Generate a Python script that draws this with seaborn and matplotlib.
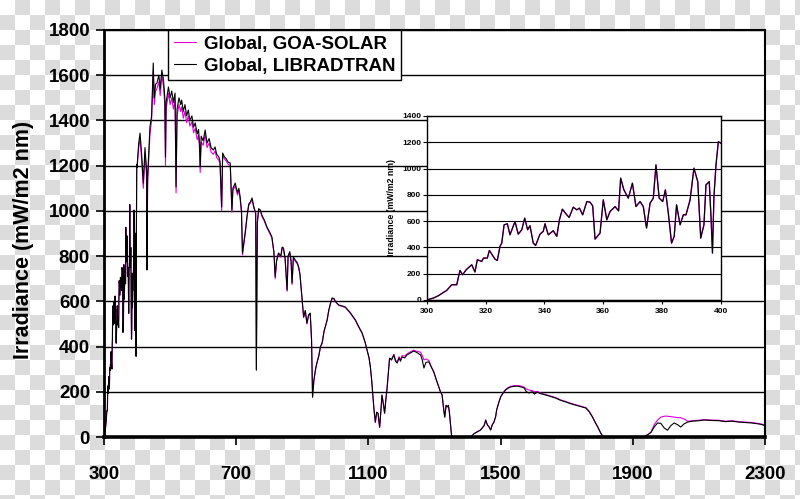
import numpy as np
import pandas as pd
import matplotlib
matplotlib.use('Agg')
import matplotlib.pyplot as plt
import seaborn as sns

# ---------------- data ----------------
# UV part (300-400 nm), both models overlap here (also shown in the inset)
wl_uv = [300, 302.3, 304, 305.7, 306.8, 308, 308.5, 310.2, 311.3, 312.2,
         313.4, 315.3, 316.4, 317.2, 318.7, 319.3, 320.6, 321.3, 323.2, 324,
         324.9, 325.5, 326.3, 327.4, 328.3, 330, 331.1, 332.3, 333.3, 334.3,
         335.1, 336.2, 337, 338.5, 339.6, 340.2, 341.3, 343, 344.2, 345.1,
         346.1, 347.6, 348.4, 349.8, 351, 351.9, 353, 354.4, 355.5, 356.4,
         357.2, 358.9, 360, 361.2, 362.3, 364, 365.2, 365.9, 367, 368.5,
         369.9, 371.1, 372.5, 373.6, 374.7, 375.9, 377, 377.9, 379, 380.2,
         381.1, 382.1, 383.2, 384.1, 384.9, 386.1, 387.2, 388.1, 389.5, 390.8,
         392.1, 393.1, 394.2, 394.9, 396, 396.6, 397.1, 397.6, 398.3, 399.1,
         400]
irr_uv = [0, 15, 33, 58, 73, 104, 116, 116, 225, 192,
          230, 268, 213, 306, 294, 319, 319, 377, 311, 301,
          408, 433, 572, 580, 496, 597, 501, 534, 623, 534,
          565, 433, 415, 501, 522, 580, 496, 527, 484, 610,
          691, 648, 628, 706, 686, 699, 648, 749, 744, 716,
          463, 509, 762, 610, 673, 711, 678, 927, 838, 775,
          889, 711, 749, 711, 547, 737, 775, 1028, 775, 749,
          838, 661, 433, 484, 724, 572, 648, 648, 762, 1003,
          901, 471, 572, 876, 901, 635, 357, 787, 1028, 1205,
          1192]

wl_main = [405, 409, 414, 419, 424, 429, 430, 432, 439, 444,
           449, 452, 456, 460, 466, 470, 475, 480, 484, 486,
           488, 495, 500, 505, 510, 515, 518, 521, 527, 532,
           535, 540, 545, 550, 555, 560, 566, 571, 576, 582,
           586, 589, 591, 594, 600, 606, 612, 618, 624, 631,
           636, 641, 647, 651, 656, 659, 664, 670, 676, 682,
           687, 690, 697, 704, 708, 712, 716, 719, 723, 727,
           733, 738, 743, 748, 753, 759, 761, 764, 768, 773,
           778, 785, 793, 800, 808, 814, 818, 822, 828, 835,
           839, 843, 848, 854, 857, 862, 866, 869, 873, 880,
           885, 889, 893, 897, 901, 904, 909, 914, 919, 924,
           928, 931, 935, 940, 944, 950, 955, 960, 966, 970,
           975, 980, 985, 990, 996, 1000, 1010, 1020, 1030, 1045,
           1061, 1070, 1081, 1090, 1096, 1102, 1106, 1110, 1113, 1117,
           1121, 1125, 1129, 1134, 1138, 1141, 1145, 1149, 1153, 1156,
           1160, 1164, 1170, 1177, 1182, 1187, 1193, 1197, 1202, 1210,
           1217, 1225, 1237, 1245, 1258, 1263, 1268, 1274, 1283, 1290,
           1298, 1305, 1313, 1318, 1323, 1328, 1331, 1335, 1338, 1342,
           1345, 1350, 1352, 1400, 1409, 1420, 1439, 1450, 1455, 1460,
           1465, 1470, 1475, 1480, 1485, 1488, 1494, 1500, 1508, 1515,
           1522, 1530, 1540, 1550, 1560, 1571, 1578, 1586, 1595, 1603,
           1611, 1620, 1636, 1650, 1667, 1680, 1697, 1710, 1727, 1740,
           1758, 1768, 1778, 1786, 1794, 1802, 1810, 1930, 1945, 1955,
           1965, 1975, 1985, 1995, 2005, 2015, 2025, 2035, 2045, 2055,
           2066, 2080, 2100, 2115, 2140, 2160, 2180, 2200, 2220, 2240,
           2260, 2280, 2290, 2300]

lib_main = [1300, 1344, 1250, 1123, 1280, 1180, 739, 1150, 1371, 1420,
            1654, 1500, 1560, 1565, 1600, 1540, 1623, 1580, 1500, 1238,
            1480, 1548, 1500, 1530, 1480, 1521, 1106, 1450, 1500, 1470,
            1490, 1440, 1470, 1420, 1446, 1400, 1420, 1370, 1389, 1340,
            1360, 1300, 1194, 1330, 1310, 1358, 1300, 1320, 1280, 1269,
            1283, 1250, 1240, 1220, 1017, 1256, 1240, 1230, 1215, 1212,
            1004, 1100, 1123, 1080, 1100, 1062, 1000, 814, 860, 902,
            980, 1030, 1040, 1057, 1020, 991, 296, 950, 1010, 1004,
            980, 960, 929, 910, 885, 820, 708, 780, 814, 800,
            840, 836, 790, 650, 800, 820, 780, 681, 796, 780,
            770, 752, 720, 650, 580, 531, 560, 504, 540, 548,
            430, 177, 250, 300, 327, 360, 400, 416, 470, 490,
            517, 560, 590, 615, 612, 600, 584, 580, 575, 550,
            517, 490, 460, 420, 385, 350, 310, 250, 195, 120,
            66, 110, 106, 44, 120, 186, 150, 106, 170, 208,
            280, 349, 340, 363, 335, 327, 350, 335, 354, 350,
            363, 370, 380, 375, 363, 340, 305, 330, 332, 310,
            287, 255, 221, 200, 186, 120, 88, 140, 133, 140,
            110, 30, 0, 0, 0, 15, 31, 50, 75, 53,
            45, 31, 55, 66, 90, 119, 150, 177, 195, 208,
            215, 221, 224, 225, 222, 217, 200, 195, 200, 190,
            199, 192, 186, 180, 172, 163, 155, 148, 141, 136,
            128, 112, 88, 65, 44, 20, 0, 0, 10, 20,
            45, 62, 60, 40, 30, 50, 62, 55, 44, 58,
            66, 70, 72, 75, 73, 72, 68, 70, 66, 64,
            62, 58, 55, 50]

goa_main = [1280, 1320, 1220, 1100, 1250, 1150, 739, 1120, 1340, 1400,
            1620, 1470, 1530, 1540, 1570, 1510, 1600, 1550, 1470, 1200,
            1450, 1520, 1470, 1500, 1450, 1490, 1080, 1420, 1470, 1440,
            1460, 1410, 1440, 1390, 1420, 1375, 1395, 1345, 1365, 1315,
            1335, 1275, 1170, 1305, 1290, 1335, 1280, 1300, 1260, 1250,
            1265, 1235, 1225, 1210, 1000, 1245, 1230, 1220, 1205, 1200,
            995, 1090, 1110, 1070, 1090, 1050, 990, 805, 850, 895,
            975, 1025, 1035, 1050, 1015, 985, 296, 945, 1005, 1000,
            975, 955, 925, 905, 880, 815, 700, 775, 810, 795,
            835, 830, 785, 645, 795, 815, 775, 675, 790, 775,
            765, 748, 715, 645, 575, 528, 556, 500, 536, 545,
            428, 175, 248, 298, 325, 358, 398, 414, 468, 488,
            515, 558, 588, 612, 610, 598, 582, 578, 573, 548,
            515, 488, 458, 418, 383, 348, 308, 248, 193, 118,
            64, 108, 104, 42, 118, 184, 148, 104, 168, 206,
            278, 347, 345, 366, 340, 332, 355, 342, 360, 358,
            368, 375, 384, 380, 375, 360, 341, 345, 338, 312,
            288, 256, 222, 200, 186, 120, 88, 140, 133, 140,
            110, 30, 0, 0, 0, 15, 31, 50, 75, 53,
            45, 31, 55, 66, 90, 119, 150, 177, 197, 210,
            218, 224, 227, 228, 226, 221, 212, 208, 205, 200,
            202, 195, 188, 182, 174, 165, 157, 150, 143, 138,
            130, 114, 90, 66, 45, 20, 0, 0, 10, 22,
            55, 75, 88, 92, 92, 90, 88, 86, 85, 80,
            70, 72, 74, 77, 75, 74, 70, 72, 68, 66,
            64, 60, 57, 52]

series_labels = ['Global, GOA-SOLAR', 'Global, LIBRADTRAN']
main_xticks = [300, 700, 1100, 1500, 1900, 2300]
main_yticks = [0, 200, 400, 600, 800, 1000, 1200, 1400, 1600, 1800]
inset_xticks = [300, 320, 340, 360, 380, 400]
inset_yticks = [0, 200, 400, 600, 800, 1000, 1200, 1400]
ylabel_text = 'Irradiance (mW/m2 nm)'

assert len(wl_uv) == len(irr_uv)
assert len(wl_main) == len(lib_main) == len(goa_main)

df = pd.DataFrame({
    'wl': wl_uv + wl_main,
    'goa': irr_uv + goa_main,
    'lib': irr_uv + lib_main,
})

# ---------------- style ----------------
sns.set_theme(style='white')
plt.rcParams['font.family'] = ['Liberation Sans', 'DejaVu Sans']
plt.rcParams['font.weight'] = 'bold'

MAG = '#dd00dd'
W, H = 800, 499
fig = plt.figure(figsize=(W / 100, H / 100), dpi=100)

# checkerboard background (transparent-image look)
bg = fig.add_axes([0, 0, 1, 1], zorder=-10)
ny, nx = 34, 54
chk = np.add.outer(np.arange(ny), np.arange(nx)) % 2
img = np.where(chk[..., None] == 1, np.array([220, 220, 220]), np.array([255, 255, 255])) / 255.0
bg.imshow(img, extent=[0, nx * 15, ny * 15, 0], interpolation='nearest', aspect='auto')
bg.set_xlim(0, W)
bg.set_ylim(H, 0)
bg.axis('off')

# ---------------- main axes ----------------
L, R, T, B = 104, 765, 30, 437
ax = fig.add_axes([L / W, 1 - B / H, (R - L) / W, (B - T) / H])
ax.set_facecolor('white')
sns.lineplot(data=df, x='wl', y='goa', ax=ax, color=MAG, lw=0.8,
             label=series_labels[0], estimator=None, sort=False)
sns.lineplot(data=df, x='wl', y='lib', ax=ax, color='black', lw=0.8,
             label=series_labels[1], estimator=None, sort=False)
ax.set_xlim(300, 2300)
ax.set_ylim(0, 1800)
ax.set_xticks(main_xticks)
ax.set_yticks(main_yticks)
ax.yaxis.grid(True, color='black', lw=1)
ax.xaxis.grid(False)
ax.set_axisbelow(True)
ax.tick_params(axis='both', which='major', bottom=True, left=True, direction='out',
               length=6, width=1.2, color='black', labelsize=13.5, labelcolor='black')
ax.tick_params(axis='x', pad=15)
ax.tick_params(axis='y', pad=4)
for lab in ax.get_xticklabels() + ax.get_yticklabels():
    lab.set_fontweight('bold')
ax.set_xlabel('')
ax.set_ylabel(ylabel_text, fontsize=15.5, fontweight='bold', color='black')
ax.yaxis.set_label_coords((34 - L) / (R - L), (B - 240) / (B - T))
for s, lw in [('left', 2), ('bottom', 2.6), ('top', 1.5), ('right', 1.5)]:
    ax.spines[s].set_visible(True)
    ax.spines[s].set_color('black')
    ax.spines[s].set_linewidth(lw)

leg = ax.legend(loc='upper left', bbox_to_anchor=((168 - L) / (R - L), 1.0),
                borderaxespad=0, frameon=True, fancybox=False, edgecolor='black',
                framealpha=1, prop={'weight': 'bold', 'size': 13.5},
                handlelength=1.2, handletextpad=0.4, labelspacing=0.25, borderpad=0.3)
leg.get_frame().set_linewidth(1)
for t in leg.get_texts():
    t.set_color('black')

# ---------------- inset ----------------
iL, iR, iT, iB = 426.7, 721, 116, 300
axin = fig.add_axes([iL / W, 1 - iB / H, (iR - iL) / W, (iB - iT) / H])
axin.set_facecolor('white')
sns.lineplot(data=df, x='wl', y='goa', ax=axin, color=MAG, lw=1.0,
             legend=False, estimator=None, sort=False)
sns.lineplot(data=df, x='wl', y='lib', ax=axin, color='black', lw=0.8,
             legend=False, estimator=None, sort=False)
axin.set_xlim(300, 400)
axin.set_ylim(0, 1400)
axin.set_xticks(inset_xticks)
axin.set_yticks(inset_yticks)
axin.yaxis.grid(True, color='black', lw=0.8)
axin.xaxis.grid(False)
axin.set_axisbelow(True)
axin.tick_params(axis='y', left=True, direction='inout', length=6, width=0.8,
                 color='black', labelsize=6, pad=1, labelcolor='black')
axin.tick_params(axis='x', bottom=True, direction='out', length=3, width=0.8,
                 color='black', labelsize=6, pad=3, labelcolor='black')
for lab in axin.get_xticklabels() + axin.get_yticklabels():
    lab.set_fontweight('bold')
axin.set_xlabel('')
axin.set_ylabel(ylabel_text, fontsize=6.3, fontweight='bold', color='black')
axin.yaxis.set_label_coords((396 - iL) / (iR - iL), (iB - 207) / (iB - iT))
for s in ['left', 'bottom', 'top', 'right']:
    axin.spines[s].set_visible(True)
    axin.spines[s].set_color('black')
    axin.spines[s].set_linewidth(1)

fig.savefig('out.png', dpi=100)
